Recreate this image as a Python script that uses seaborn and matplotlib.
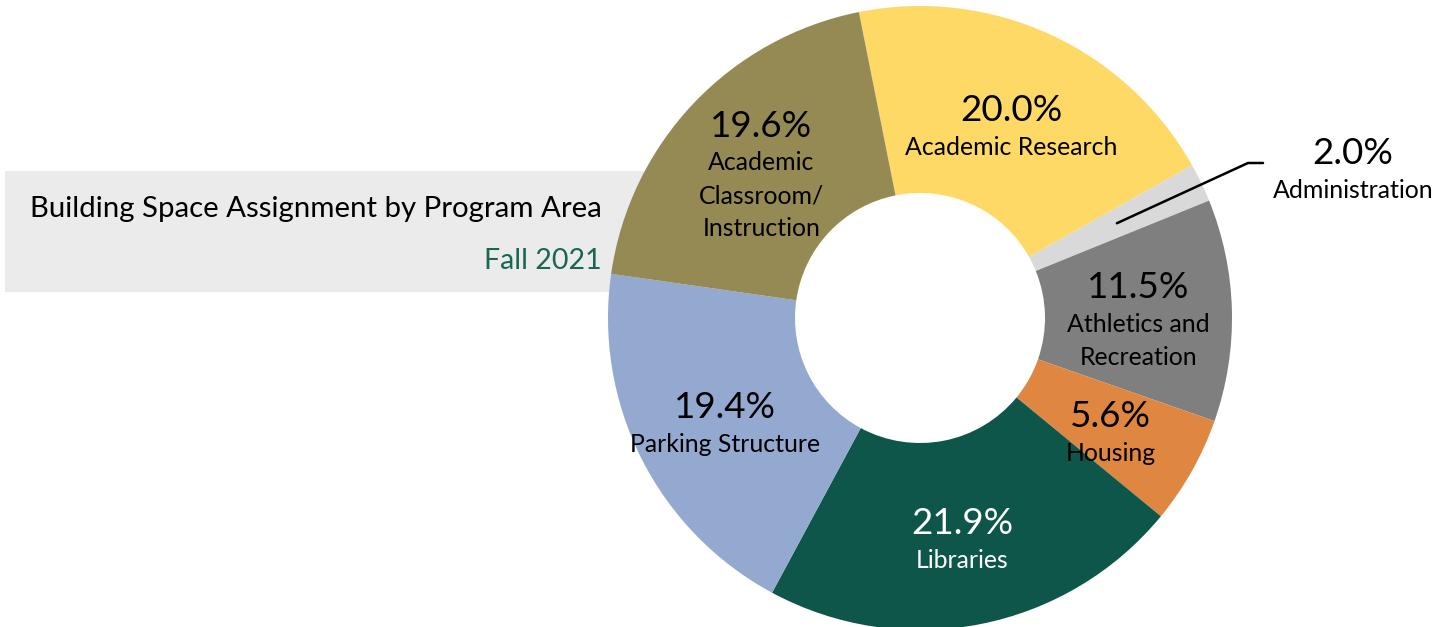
import numpy as np
import matplotlib
matplotlib.use("Agg")
import matplotlib.pyplot as plt
from matplotlib.patches import Rectangle
import seaborn as sns

# Program areas, clockwise from the top
categories = ["Academic Research", "Administration", "Athletics and\nRecreation",
              "Housing", "Libraries", "Parking Structure",
              "Academic\nClassroom/\nInstruction"]
shares = [20.0, 2.0, 11.5, 5.6, 21.9, 19.4, 19.6]
colors = ["#FFD966", "#D9D9D9", "#7F7F7F", "#DF8740", "#0E554A", "#94A9D0", "#958A53"]
text_colors = ["black", "black", "black", "black", "white", "black", "black"]

title = "Building Space Assignment by Program Area"
subtitle = "Fall 2021"

sns.set_theme(style="white")
plt.rcParams["font.family"] = ["Lato", "DejaVu Sans"]

W, H = 1453, 627
fig = plt.figure(figsize=(W / 100, H / 100), dpi=100)
ax = fig.add_axes([0, 0, 1, 1])


def py(y):
    """Convert a top-down pixel row to the axes' y coordinate."""
    return H - y


# Title banner behind the donut
ax.add_patch(Rectangle((5, py(292)), 640, 121, facecolor="#EBEBEB",
                       edgecolor="none", zorder=0))
ax.text(602, py(209), title, ha="right", va="center", fontsize=21.2, color="black")
ax.text(602, py(261), subtitle, ha="right", va="center", fontsize=20.5, color="#1A6655")

cx, cy, R, r_in = 920, py(318), 312, 125
start = 90 + 11.3
wedges, _ = ax.pie(shares, colors=colors, startangle=start, counterclock=False,
                   radius=R, center=(cx, cy), frame=True,
                   wedgeprops=dict(width=R - r_in, linewidth=0, zorder=2))
ax.set_xlim(0, W)
ax.set_ylim(0, H)
ax.set_aspect("equal")
ax.axis("off")

r_lab = (R + r_in) / 2
pct_h, line_h, drop = 50, 33, 8
for w, cat, val, tc in zip(wedges, categories, shares, text_colors):
    mid = np.deg2rad((w.theta1 + w.theta2) / 2)
    mx, my = cx + r_lab * np.cos(mid), cy + r_lab * np.sin(mid)
    pct = f"{val:.1f}%"
    n = cat.count("\n") + 1
    if cat == "Administration":
        # Small slice: label sits outside with a leader line
        lx, ly = 1353, py(170)
        ax.plot([mx, 1248, 1263], [my, py(163), py(163)], color="black", lw=1.8, zorder=3)
    else:
        lx, ly = mx, my - drop
    top = ly + (pct_h + n * line_h) / 2
    ax.text(lx, top - pct_h / 2, pct, ha="center", va="center", fontsize=26.5,
            color=tc, zorder=4)
    ax.text(lx, top - pct_h, cat, ha="center", va="top", fontsize=17.9,
            color=tc, linespacing=1.53, zorder=4)

fig.savefig("out.png", dpi=100)
